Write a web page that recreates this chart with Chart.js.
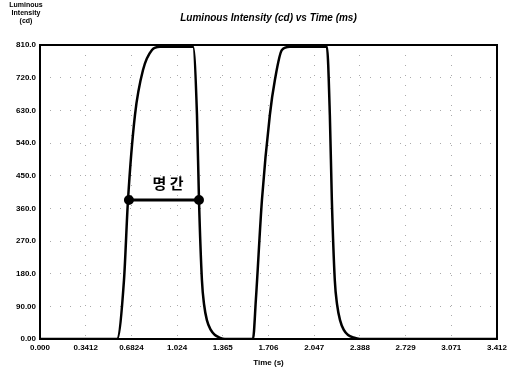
<!DOCTYPE html>
<html>
<head>
<meta charset="utf-8">
<script src="https://cdn.jsdelivr.net/npm/chart.js@4"></script>
<style>
  html, body { margin: 0; padding: 0; background: #fff; }
  #wrap { width: 514px; height: 368px; }
</style>
</head>
<body>
<div id="wrap"><canvas id="chart" width="514" height="368"></canvas></div>
<script>
// luminance trace (time in s, intensity in cd)
const timeS = [0, 0.575, 0.627, 0.657, 0.709, 0.769, 0.836, 0.896,
  1.142, 1.172, 1.187, 1.209, 1.225, 1.246, 1.275, 1.306, 1.340, 1.381,
  1.590, 1.612, 1.657, 1.716, 1.754, 1.806, 1.866,
  2.142, 2.164, 2.179, 2.201, 2.218, 2.240, 2.268, 2.300, 2.340, 2.388, 3.412];
const intensity = [0, 0, 162, 383, 617, 741, 796, 805,
  805, 617, 383, 162, 95, 52, 25, 11, 4, 0,
  0, 110, 383, 617, 714, 796, 805,
  805, 617, 383, 162, 95, 52, 25, 11, 4, 0, 0];

const xTickValues = [0, 0.3412, 0.6824, 1.0236, 1.3648, 1.706, 2.0472, 2.3884, 2.7296, 3.0708, 3.412];
const xTickLabels = ["0.000", "0.3412", "0.6824", "1.024", "1.365", "1.706", "2.047", "2.388", "2.729", "3.071", "3.412"];
const yTickValues = [0, 90, 180, 270, 360, 450, 540, 630, 720, 810];
const yTickLabels = ["0.00", "90.00", "180.0", "270.0", "360.0", "450.0", "540.0", "630.0", "720.0", "810.0"];

// width marker between the two edges of the first pulse
const spanTimes = [0.664, 1.187];
const spanLevel = 383;
const spanLabel = "명 간";

const titleText = "Luminous Intensity (cd) vs Time (ms)";
const yTitle = ["Luminous", "Intensity", "(cd)"];
const xTitle = "Time (s)";

const tickFont = { family: "Liberation Sans", size: 8, weight: "bold" };

const extras = {
  id: "extras",
  afterDraw(chart) {
    const { ctx, chartArea: a, scales } = chart;
    ctx.save();
    // frame
    ctx.strokeStyle = "#000";
    ctx.lineWidth = 2;
    ctx.strokeRect(a.left, a.top, a.right - a.left, a.bottom - a.top);
    // title
    ctx.fillStyle = "#000";
    ctx.textAlign = "center";
    ctx.textBaseline = "middle";
    ctx.font = "italic bold 10px 'Liberation Sans'";
    ctx.fillText(titleText, (a.left + a.right) / 2, 18);
    // y title, top left
    ctx.font = "bold 7px 'Liberation Sans'";
    yTitle.forEach((t, i) => ctx.fillText(t, 26, 5 + i * 8));
    // span label
    ctx.font = "bold 15px 'Noto Sans CJK KR'";
    const cx = (scales.x.getPixelForValue(spanTimes[0]) + scales.x.getPixelForValue(spanTimes[1])) / 2;
    ctx.fillText(spanLabel, cx + 4, scales.y.getPixelForValue(spanLevel) - 17);
    ctx.restore();
  }
};

new Chart(document.getElementById("chart"), {
  type: "line",
  data: {
    datasets: [
      {
        data: timeS.map((t, i) => ({ x: t, y: intensity[i] })),
        borderColor: "#000",
        borderWidth: 2.5,
        pointRadius: 0,
        cubicInterpolationMode: "monotone",
        fill: false
      },
      {
        data: spanTimes.map(t => ({ x: t, y: spanLevel })),
        borderColor: "#000",
        backgroundColor: "#000",
        borderWidth: 3,
        pointRadius: 3.5,
        pointStyle: "circle",
        fill: false
      }
    ]
  },
  options: {
    responsive: false,
    animation: false,
    layout: { padding: { top: 45, right: 17, left: 0, bottom: 0 } },
    plugins: { legend: { display: false }, tooltip: { enabled: false } },
    scales: {
      x: {
        type: "linear",
        min: 0,
        max: 3.412,
        afterBuildTicks: axis => { axis.ticks = xTickValues.map(v => ({ value: v })); },
        afterFit: axis => { axis.height = 29; },
        ticks: {
          font: tickFont,
          color: "#000",
          padding: 4,
          maxRotation: 0,
          autoSkip: false,
          callback: (v, i) => xTickLabels[i]
        },
        grid: { color: "#aaa", lineWidth: 1, drawTicks: false },
        border: { display: false, dash: [1, 9] },
        title: { display: true, text: xTitle, font: tickFont, color: "#000", padding: 0 }
      },
      y: {
        min: 0,
        max: 810,
        afterBuildTicks: axis => { axis.ticks = yTickValues.map(v => ({ value: v })); },
        afterFit: axis => { axis.width = 40; },
        ticks: {
          font: tickFont,
          color: "#000",
          padding: 4,
          autoSkip: false,
          callback: (v, i) => yTickLabels[i]
        },
        grid: { color: "#aaa", lineWidth: 1, drawTicks: false },
        border: { display: false, dash: [1, 9] }
      }
    }
  },
  plugins: [extras]
});
</script>
</body>
</html>
